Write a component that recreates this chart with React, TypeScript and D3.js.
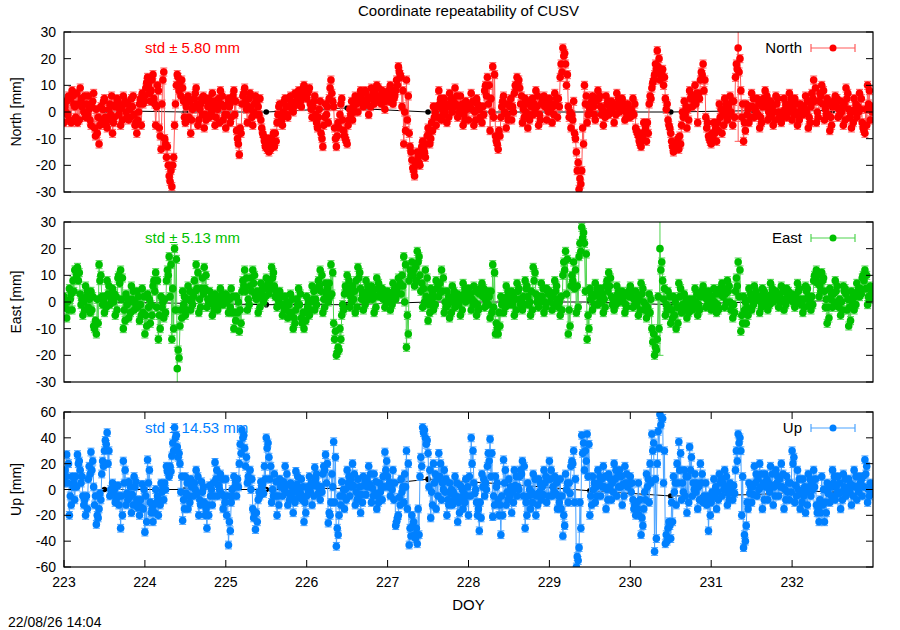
import React from 'react';
import * as d3 from 'd3';

// Sampling: 90 epochs per day, starting DOY 223.0.
// Three interleaved epoch sets (A, B, C), 30 values per day each.
const START_DOY = 223;
const EPOCHS_PER_DAY = 90;
const xDomain = [223, 233];
const xTicks = [223, 224, 225, 226, 227, 228, 229, 230, 231, 232];

// North residuals [mm]
const northA = [
  -4, 4, -3, 8, 2, -4, 9, 3, -2, 6, -5, 7, 1, -12, -3, 5, -6, 3, -8, 2, 4, -5, 6, 0, -3, 5, -1, -8, 3, 7,
  6, 13, 4, 14, -5, 8, -14, 15, -17, -24, -28, -5, 14, 11, 9, -4, 6, -8, 2, 9, -3, 5, -6, 4, -2, 7, -5, 1, 8, -3,
  -6, 5, -2, 8, -7, -16, 3, 9, -4, 7, -5, 6, 2, -3, -9, -12, -15, -10, -13, -4, 3, -5, 5, -2, 6, 0, 4, 8, 2, 10,
  5, 9, -2, 6, -6, 4, -13, 3, -4, 12, 2, -13, -6, 5, -9, -12, 1, -3, 6, 0, 8, 2, 7, -1, 9, 3, 10, 4, 8, 1,
  6, 10, 3, 8, 17, 13, -12, 12, -8, -18, -24, -15, -20, -11, -17, -6, -10, 2, -5, 8, -3, 5, -4, 7, 0, 9, -2, 6, -5, 4,
  -3, 7, -5, 5, 1, -4, 8, 13, -7, 17, -9, -14, -2, 6, -6, 3, -3, 7, 13, 9, -4, 5, -6, 4, -1, 8, -5, 3, 6, -3,
  5, -4, 7, -2, 13, 24, 18, 2, -6, 4, -15, -29, -22, 10, -4, 1, 6, -3, 8, 2, -5, 6, -1, 4, -4, 7, 0, 5, -3, 3,
  -2, 5, -6, -9, -13, -4, -11, 3, 9, 14, 23, 12, 16, 5, -3, -8, -15, -12, -14, -5, 4, -6, 8, 2, 10, -4, 12, 18, -2, -9,
  -12, -4, -11, 3, -8, 5, -3, 6, -5, 13, 24, 8, -11, 3, -4, 7, -2, 5, -6, 2, 8, -3, 4, -5, 6, 0, -4, 5, -2, 7,
  -3, 5, -5, 3, -1, 6, -6, 2, 12, -4, 4, 10, -3, 5, -7, 2, 6, -2, 4, -5, 9, 1, -6, 5, -2, 7, -4, -8, 10, -3,
];
const northB = [
  2, -1, 5, 6, -2, 3, 5, 0, 3, 1, 2, -6, -8, -5, 1, -2, -3, -1, -4, 3, -1, 2, 3, -2, 1, 2, -5, -3, 5, 3,
  9, 10, 8, 5, 2, -6, 3, -10, -13, -26, -20, 3, 13, 6, 4, 2, -2, -3, 5, 3, 1, -1, -1, 2, 3, 1, -2, 5, 3, 2,
  -1, 2, 4, -1, -10, -6, 6, 4, 2, 1, 0, 4, -1, -6, -11, -14, -12, -11, -8, -1, -1, 0, 2, 2, 3, 2, 6, 5, 7, 7,
  7, 3, 2, -1, -2, -8, -5, -1, 5, 7, -6, -9, -1, -3, -10, -5, -1, 2, 3, 4, 5, 4, 3, 5, 6, 7, 6, 6, 5, 4,
  8, 6, 5, 12, 15, 2, 0, -3, -13, -21, -19, -17, -16, -14, -12, -8, -4, -2, 2, 3, 1, 0, 2, 3, 4, 3, 2, 1, -1, 1,
  2, 1, 0, 3, -2, 2, 10, 3, 5, -2, -11, -7, 2, 0, -1, 2, 2, 10, 11, 3, 1, 0, -1, 2, 3, 2, -1, 4, 2, 1,
  1, 2, 3, 5, 18, 21, 10, -2, -1, -8, -22, -25, -6, 3, -1, 3, 2, 4, 5, -1, 0, 3, 2, 0, 2, 3, 2, 1, 0, -1,
  1, -1, -7, -11, -8, -8, -4, 6, 11, 18, 17, 14, 10, 1, -5, -11, -13, -13, -9, 0, -1, 1, 5, 6, 3, 7, 15, 8, -6, -10,
  -8, -8, -4, -2, -1, 1, 2, 0, 4, 18, 15, -2, -4, -1, 2, 2, 1, -1, -2, 5, 2, 0, -1, 0, 3, -2, 0, 1, 2, 3,
  1, 0, -1, 1, 2, 0, -2, 7, 4, 0, 7, 3, 1, -1, -2, 4, 2, 1, 0, 3, 5, -2, 0, 1, 2, 1, -6, 1, 3, 2,
];
const northC = [
  0, 6, -4, 3, 7, -3, 2, 6, -1, -3, 4, -9, -2, 2, 4, -5, 1, 6, -2, 5, 1, -3, 4, 3, -2, 6, -4, 0, -5, 4,
  11, 7, 12, 3, 10, -9, 12, -12, -20, -22, -17, 10, 8, 12, -2, 5, 4, 1, 7, -5, 3, 6, -3, 5, 0, 4, 3, -4, 6, -1,
  3, -4, 6, 4, -12, -8, 7, 1, 5, -2, 3, -1, 5, -8, -13, -10, -14, -8, -11, 2, -3, 4, -1, 5, 1, 7, 3, 4, 9, 6,
  8, 1, 4, -4, 1, -10, -2, 2, 9, 4, -10, -4, 3, -7, -11, -3, 4, 0, 5, 6, 3, 8, 5, 2, 8, 5, 9, 3, 7, 6,
  4, 8, 6, 10, 14, 8, -7, 6, -15, -22, -20, -19, -13, -15, -9, -12, -7, 0, -2, 5, -1, 3, -2, 5, 2, 6, 0, 3, -3, 2,
  3, 4, -3, 1, 2, -1, 6, 10, 0, 14, -12, -9, 4, 3, -3, 5, 0, 9, 12, 6, -2, 3, -3, 5, 1, 6, -3, 5, 4, 0,
  3, -1, 5, 2, 15, 22, 14, 0, -3, -10, -19, -27, -12, 6, 2, 4, -1, 5, 6, 1, -2, 4, 1, 3, -1, 5, 3, 3, -2, 1,
  0, 3, -8, -12, -10, -6, -8, 5, 12, 16, 20, 15, 13, 3, -6, -13, -14, -10, -12, -2, 2, -3, 6, 4, 7, 5, 14, 12, -4, -11,
  -10, -6, -7, 1, -5, 3, -1, 4, -2, 16, 20, 3, -7, 1, -2, 5, 0, 3, -4, 4, 6, -2, 2, -3, 5, -1, -2, 3, 0, 5,
  -1, 3, -3, 2, 1, 4, -4, 5, 9, -2, 6, 8, -1, 3, -5, 3, 5, -1, 2, -3, 7, 0, -4, 3, 0, 5, -7, -5, 8, 0,
];

// East residuals [mm]
const eastA = [
  2, -6, 5, -3, 12, 13, 3, -5, 6, -2, 4, -9, -12, 14, 2, -4, 8, -1, 5, -5, 9, 12, -10, 3, -6, 6, -3, 4, -7, 5,
  -12, 3, -8, 6, 11, -14, 2, -6, 8, 17, -14, 20, -25, -9, 4, -5, 6, -3, 2, 14, -4, 5, 13, -2, 4, -5, 3, -3, 5, -1,
  3, -4, 5, -10, 2, -11, 4, 12, -3, 6, 12, 2, -4, 7, 0, 9, 3, 13, 6, -2, 4, -5, 2, -6, 3, -10, -3, 5, -6, -10,
  2, -5, 6, -3, 5, 12, -4, 7, 0, 14, -8, -20, -18, -5, 3, 10, -2, 6, -4, 13, 5, -3, 8, 1, 6, -4, 9, 2, 5, -2,
  4, -3, 7, 1, 9, 3, 17, -17, 8, 15, 6, 19, 10, -2, 12, -7, 5, -3, 8, 2, 12, -4, 4, -6, 6, -2, 3, -5, 7, 0,
  5, -3, 6, -5, 3, 7, -2, 4, -6, 14, -12, -12, 2, -4, 6, -1, 4, -5, 7, 1, -3, 8, 2, -5, 13, 3, -2, 7, -4, 5,
  4, -3, 8, 1, -5, 10, 19, -12, 6, 15, -4, 17, 28, 22, -14, 5, -3, 7, -1, 5, -4, 6, 11, 2, -3, 6, 0, 4, -4, 3,
  6, -2, 4, -5, 7, 0, -6, 3, -10, -20, -14, 20, 8, -5, 4, -8, 2, -10, 7, -4, 3, -6, 1, -3, 5, -5, 2, 6, -2, 4,
  -3, 5, -4, 3, 7, -2, 8, 0, -6, 4, 15, -11, 2, -8, 5, -3, 6, 1, -4, 5, 2, -3, 7, 0, 4, -2, 6, -3, 5, 1,
  3, -2, 7, 1, -4, 6, 2, -3, 8, 12, 2, 11, 4, -8, 5, -2, 8, 0, -5, 6, 3, -9, 4, -3, 7, 2, 9, 12, -1, 6,
];
const eastB = [
  -2, 0, 1, 8, 12, 8, -1, 0, 2, 1, -3, -10, 1, 8, -1, 2, 3, 2, 0, 2, 10, 1, -3, -1, 0, 1, 0, -2, -1, -4,
  -5, -2, -1, 8, -2, -5, -2, 1, 12, 2, 5, -3, -18, -3, -1, 1, 1, 0, 8, 5, 1, 9, 5, 1, 0, -1, 0, 1, 2, 1,
  0, 1, -4, -4, -4, -3, 8, 4, 1, 9, 7, 1, 2, 3, 5, 6, 8, 9, 2, 1, -1, -1, -2, -1, -4, -6, 1, -1, -8, -4,
  -2, 0, 1, 1, 8, 4, 1, 3, 7, 3, -14, -19, -10, -1, 6, 4, 2, 1, 8, 9, 1, 2, 4, 3, 1, 2, 5, 3, 1, 2,
  0, 2, 4, 5, 6, 10, 0, -5, 12, 10, 13, 15, 4, 5, 2, -1, 1, 2, 5, 7, 4, 0, -1, 0, 2, 1, -1, 1, 3, 2,
  1, 1, 0, -1, 5, 2, 1, -1, 4, -2, -8, -4, -1, 1, 2, 1, -1, 1, 4, -1, 2, 5, -1, 4, 8, 0, 2, 2, 0, 4,
  0, 2, 4, -2, 2, 15, 3, -3, 10, 5, 6, 22, 24, 4, -5, 1, 2, 3, 2, 0, 1, 8, 6, -1, 1, 3, 2, 0, -1, 4,
  2, 1, -1, 1, 3, -3, -2, -4, -15, -17, 2, 12, 1, -1, -2, -3, -5, -2, 2, -1, -1, -2, -1, 1, 0, -1, 4, 2, 1, 0,
  1, 0, -1, 5, 2, 3, 4, -3, -1, 9, 2, -5, -3, -2, 1, 1, 3, 1, 0, 3, -1, 2, 3, 2, 1, 2, 1, 1, 3, 2,
  0, 2, 4, -1, 1, 4, -1, 2, 10, 7, 6, 8, -2, -2, 1, 3, 4, -2, 0, 4, -3, -2, 0, 2, 4, 5, 10, 5, 2, 3,
];
const eastC = [
  0, -3, 3, 4, 10, 11, 1, -3, 4, -4, 2, -7, -8, 10, 0, -2, 6, 1, 3, -3, 7, 9, -7, 1, -4, 4, -1, 2, -5, 2,
  -9, 1, -5, 4, 8, -10, 0, -4, 10, 14, -10, 16, -21, -6, 2, -3, 4, -1, 4, 11, -2, 3, 10, 0, 2, -3, 2, -1, 3, 0,
  2, -2, 2, -7, 0, -8, 6, 9, -1, 4, 10, 4, -2, 5, 2, 7, 5, 11, 4, 0, 2, -3, 0, -4, 1, -8, -1, 3, -4, -7,
  0, -3, 4, -1, 6, 10, -2, 5, 2, 11, -11, -17, -14, -3, 5, 8, 0, 4, -2, 11, 3, -1, 6, 2, 4, -2, 7, 3, 4, 0,
  2, -1, 5, 3, 7, 6, 14, -12, 10, 12, 8, 17, 7, 0, 9, -4, 3, -1, 6, 4, 9, -2, 2, -4, 4, 0, 2, -3, 5, 1,
  3, -1, 4, -3, 4, 5, 0, 2, -4, 11, -10, -9, 0, -2, 4, 0, 2, -3, 5, 0, -1, 6, 0, -3, 11, 2, 0, 5, -2, 3,
  2, -1, 6, 0, -3, 12, 16, -9, 8, 12, -2, 19, 26, 18, -10, 3, -1, 5, 0, 3, -2, 4, 9, 1, -1, 4, 1, 2, -2, 2,
  4, -1, 2, -3, 5, -1, -4, 1, -12, -18, -10, 15, 5, -3, 2, -6, 0, -8, 5, -3, 1, -4, 0, -2, 3, -3, 3, 4, -1, 2,
  -2, 3, -3, 4, 5, 0, 6, -1, -4, 6, 12, -8, 0, -5, 3, -1, 4, 2, -2, 4, 0, -1, 5, 1, 3, 0, 4, -1, 4, 2,
  2, 0, 5, 0, -2, 5, 1, -1, 9, 10, 4, 9, 1, -6, 3, 0, 6, 1, -3, 5, 1, -7, 2, -1, 5, 3, 8, 10, 1, 4,
];

// Up residuals [mm]
const upA = [
  5, 27, -20, 10, -8, 27, 15, -5, -20, 8, 29, 2, -27, -15, 12, 30, 44, -5, 5, -10, 3, -30, 22, -12, 6, -18, 10, -8, -20, 4,
  -33, 23, -10, -25, 0, -20, 5, -8, 18, 10, 26, 48, 33, 20, -24, 10, -15, 8, -5, 15, -20, 6, -10, -30, 3, -12, 21, -5, 12, -15,
  8, -43, -10, 10, -5, 20, 46, 32, 5, 15, -15, -31, -8, 6, -3, 40, 25, -10, 12, -20, 8, -5, 18, -12, 5, -18, 14, -6, 8, -25,
  -5, 10, -12, 17, 3, -8, 12, 27, -26, -10, 37, -44, -20, 6, -15, 15, -5, 20, -12, 8, -18, 10, -4, 18, -10, 12, -15, 5, -8, 29,
  10, -5, 15, -28, -20, 8, -10, 30, -43, -20, -35, -42, 10, 48, 40, 28, -22, 20, -15, 28, -8, 15, -20, 5, -12, 10, -25, 3, -15, 8,
  -20, 40, 5, -10, -32, 12, -5, 18, 39, -21, 10, -8, -35, 23, -12, 8, -18, 15, -5, 10, 22, -30, 5, -15, 12, -20, 8, -8, 15, -10,
  22, -5, 10, -15, 8, -36, 12, -10, 18, 30, -60, -45, 42, 15, 43, -20, 10, -10, 15, -5, 18, -15, 12, -8, 20, -5, 15, -12, 18, 2,
  10, -8, -20, 5, -35, -15, 12, -10, 43, -48, 20, 58, 55, -42, -30, -38, 10, -12, 37, -8, 15, -18, 33, -5, 12, -15, 20, -10, 5, -32,
  -10, 8, -15, 12, -5, 15, -12, 5, -8, 15, 43, 30, -45, -28, 5, -10, 18, -5, 20, -15, 12, -8, 18, -12, 15, -5, 20, -15, 10, -8,
  30, -10, 15, -15, 8, -18, 12, -5, 15, -12, -25, 10, -25, 5, -10, 15, -8, 10, -15, 12, -5, 8, -12, 15, -8, 10, -5, 23, -10, 5,
];
const upB = [
  15, 5, -5, 2, 10, 20, 5, -12, -5, 18, 15, -12, -20, -3, 22, 38, 20, 0, -2, -8, -12, -5, 5, -3, -6, -4, 2, -14, -8, -15,
  -5, 5, -18, -12, -10, -8, -2, 5, 14, 18, 36, 40, 25, -2, -8, -3, -5, 2, 5, -3, -8, -2, -20, -12, -5, 5, 8, 3, -3, -5,
  -20, -25, 0, 2, 8, 35, 40, 18, 10, 0, -22, -18, -2, 2, 18, 32, 8, 0, -5, -5, 2, 6, 3, -3, -6, -2, 4, 1, -8, -10,
  2, -2, 3, 8, -3, 2, 18, 5, -18, 12, -10, -30, -5, -5, 0, 5, 8, 3, -2, -5, -4, 3, 8, 4, 1, -3, -5, -2, 10, 15,
  2, 5, -8, -25, -6, -2, 12, -15, -30, -28, -38, -15, 25, 44, 35, 2, -2, 5, 8, 10, 5, -2, -8, -3, -2, -5, -10, -6, -3, -5,
  10, 20, -3, -20, -10, 2, 5, 28, 10, -5, 2, -20, -5, 5, -2, -5, -2, 3, 2, 15, -5, -10, -5, -2, -4, -5, -2, 2, 5, 8,
  8, 2, -3, -5, -15, -20, 0, 5, 22, -10, -52, -10, 28, 30, 10, -5, 0, 2, 5, 8, 2, 0, 2, 5, 8, 10, 2, 4, 5, 5,
  -2, -15, -10, -20, -22, -2, 2, 20, 30, 8, 45, 50, 5, -35, -25, -10, -2, 20, 15, 5, -5, 10, 15, 5, -2, 2, 5, -5, -12, -10,
  -2, -5, -2, 5, 5, 2, -3, -2, 3, 30, 36, -20, -35, -10, -3, 2, 5, 8, 2, 5, 2, 5, 3, 2, 5, 8, 2, 0, -2, 5,
  20, 3, 0, -3, -5, -2, 2, 5, 2, -18, -8, -12, -10, -3, 2, 5, 2, -3, -2, 2, 0, -2, 3, 2, 2, 5, 10, 12, 0, -2,
];
const upC = [
  10, 20, -12, 5, 2, 22, 10, -8, -15, 12, 22, -5, -22, -8, 18, 35, 30, -3, 0, -5, -5, -20, 15, -8, 2, -12, 6, -10, -14, 0,
  -25, 15, -15, -18, -5, -12, 2, 0, 15, 14, 30, 42, 28, 10, -15, 5, -10, 5, 0, 10, -12, 2, -15, -20, 0, -5, 15, 0, 8, -10,
  -5, -32, -5, 6, 2, 28, 42, 25, 8, 8, -18, -25, -5, 4, 8, 36, 18, -5, 6, -12, 5, 0, 12, -8, 2, -10, 10, -3, 2, -18,
  -2, 5, -5, 12, 0, -2, 15, 20, -20, 2, 25, -35, -12, 0, -8, 10, 2, 12, -8, 2, -10, 6, 2, 12, -5, 6, -10, 2, 2, 22,
  5, 0, 5, -22, -12, 2, 2, 20, -36, -25, -30, -35, 18, 46, 38, 15, -12, 12, -5, 20, 0, 8, -12, 0, -8, 5, -18, 0, -10, 2,
  -5, 30, 0, -15, -22, 8, 0, 22, 28, -12, 5, -12, -20, 15, -8, 2, -10, 10, 0, 12, 18, -20, 0, -10, 8, -12, 4, -4, 10, -5,
  15, -2, 5, -10, -5, -28, 5, -3, 20, 8, -55, -30, 36, 22, 35, -12, 5, -5, 10, 2, 10, -8, 8, -2, 15, 2, 10, -5, 12, 4,
  5, -12, -15, -8, -28, -8, 8, 5, 36, -38, 32, 55, 30, -40, -28, -25, 5, 5, 28, -2, 10, -10, 25, 0, 5, -8, 12, -8, -5, -20,
  -6, 2, -8, 8, 0, 10, -8, 2, -3, 22, 40, 10, -40, -15, 2, -4, 12, 0, 12, -8, 8, -2, 12, -5, 10, 2, 12, -8, 5, -2,
  25, -5, 8, -10, 2, -12, 8, 0, 8, -15, -18, 0, -18, 2, -5, 10, -3, 5, -8, 8, -2, 4, -5, 10, -2, 8, 2, 18, -5, 2,
];

// Formal errors [mm]: default sigma plus larger ones at a few A epochs
const sigmaNE = 1.5;
const sigmaU = 3;
const northErrOverrides: Record<number, number> = { 250: 35 };
const eastErrOverrides: Record<number, number> = { 42: 8, 221: 40 };
const upErrOverrides: Record<number, number> = {};

// Daily reference solution (black)
const modelDoy = [223.5, 224.5, 225.5, 226.5, 227.5, 228.5, 229.5, 230.5, 231.5, 232.5];
const modelN = [0.5, 0, 0, 1.5, 0, 0, 0, 0, 0.5, 0.5];
const modelE = [0, -0.5, -1, -1, 0, 0, 0, -1, 0, 0.5];
const modelU = [0, 0, 0, 1, 8, 4, -1, -5, -4, -1];

const stdTexts = ['std \u00b1 5.80 mm', 'std \u00b1 5.13 mm', 'std \u00b1 14.53 mm'];
const seriesNames = ['North', 'East', 'Up'];
const yLabels = ['North [mm]', 'East [mm]', 'Up [mm]'];

const FONT = '"Liberation Sans", Arial, Helvetica, sans-serif';

type Pt = { t: number; v: number; e: number };

function merge(a: number[], b: number[], c: number[], over: Record<number, number>, sigma: number): Pt[] {
  const out: Pt[] = [];
  a.forEach((v, i) => {
    out.push({ t: START_DOY + (3 * i) / EPOCHS_PER_DAY, v, e: over[i] ?? sigma });
    out.push({ t: START_DOY + (3 * i + 1) / EPOCHS_PER_DAY, v: b[i], e: sigma });
    out.push({ t: START_DOY + (3 * i + 2) / EPOCHS_PER_DAY, v: c[i], e: sigma });
  });
  return out;
}

export default function App() {
  const x = d3.scaleLinear().domain(xDomain).range([64, 873]);
  const panels = [
    { pts: merge(northA, northB, northC, northErrOverrides, sigmaNE), model: modelN, dom: [-30, 30], top: 32, bottom: 192, ticks: d3.range(-30, 31, 10), color: '#ff0000', light: '#ff5a5a', xAxis: false },
    { pts: merge(eastA, eastB, eastC, eastErrOverrides, sigmaNE), model: modelE, dom: [-30, 30], top: 222, bottom: 382, ticks: d3.range(-30, 31, 10), color: '#00c000', light: '#4fd44f', xAxis: false },
    { pts: merge(upA, upB, upC, upErrOverrides, sigmaU), model: modelU, dom: [-60, 60], top: 412, bottom: 567, ticks: d3.range(-60, 61, 20), color: '#0080ff', light: '#4aa3ff', xAxis: true },
  ];
  const left = 64, right = 873;
  return (
    <svg width={900} height={630} viewBox="0 0 900 630" style={{ position: 'absolute', left: 0, top: 0, background: '#fff' }} fontFamily={FONT}>
      <rect x={0} y={0} width={900} height={630} fill="#fff" />
      <text x={468.5} y={16} textAnchor="middle" fontSize={15}>Coordinate repeatability of CUSV</text>
      <defs>
        {panels.map((p, k) => (
          <clipPath id={`clip${k}`} key={k}>
            <rect x={left} y={p.top} width={right - left} height={p.bottom - p.top} />
          </clipPath>
        ))}
      </defs>
      {panels.map((p, k) => {
        const y = d3.scaleLinear().domain(p.dom).range([p.bottom, p.top]);
        const pts = p.pts;
        const line = d3.line<Pt>().x(d => x(d.t)).y(d => y(d.v));
        const mline = d3.line<number>().x((_, i) => x(modelDoy[i])).y(d => y(d));
        const mid = (p.top + p.bottom) / 2;
        const legY = p.top + 16;
        return (
          <g key={k}>
            <g clipPath={`url(#clip${k})`}>
              <path d={mline(p.model) || ''} fill="none" stroke="#000" strokeWidth={1} />
              {p.model.map((v, i) => (
                <circle key={i} cx={x(modelDoy[i])} cy={y(v)} r={2.8} fill="#000" />
              ))}
              <path d={line(pts) || ''} fill="none" stroke={p.light} strokeWidth={1} />
              {pts.map((d, i) => (
                <g key={i} stroke={p.light} strokeWidth={1}>
                  <line x1={x(d.t)} x2={x(d.t)} y1={y(d.v - d.e)} y2={y(d.v + d.e)} />
                  <line x1={x(d.t) - 3.5} x2={x(d.t) + 3.5} y1={y(d.v - d.e)} y2={y(d.v - d.e)} />
                  <line x1={x(d.t) - 3.5} x2={x(d.t) + 3.5} y1={y(d.v + d.e)} y2={y(d.v + d.e)} />
                </g>
              ))}
              {pts.map((d, i) => (
                <circle key={i} cx={x(d.t)} cy={y(d.v)} r={3.8} fill={p.color} />
              ))}
            </g>
            <rect x={left} y={p.top} width={right - left} height={p.bottom - p.top} fill="none" stroke="#000" strokeWidth={1.2} />
            {p.ticks.map(t => (
              <g key={t}>
                <line x1={left} x2={left + 7} y1={y(t)} y2={y(t)} stroke="#000" />
                <line x1={right - 7} x2={right} y1={y(t)} y2={y(t)} stroke="#000" />
                <text x={56} y={y(t) + 5} textAnchor="end" fontSize={14}>{t}</text>
              </g>
            ))}
            {p.xAxis && xTicks.map(t => (
              <g key={t}>
                <line x1={x(t)} x2={x(t)} y1={p.bottom} y2={p.bottom - 7} stroke="#000" />
                <line x1={x(t)} x2={x(t)} y1={p.top} y2={p.top + 7} stroke="#000" />
                <text x={x(t)} y={p.bottom + 20} textAnchor="middle" fontSize={14}>{t}</text>
              </g>
            ))}
            <text transform={`translate(21,${mid}) rotate(-90)`} textAnchor="middle" fontSize={14}>{yLabels[k]}</text>
            <text x={145} y={legY + 5} fontSize={15} fill={p.color}>{stdTexts[k]}</text>
            <text x={802} y={legY + 5} textAnchor="end" fontSize={15}>{seriesNames[k]}</text>
            <g stroke={p.light} strokeWidth={1.2}>
              <line x1={811} x2={855} y1={legY} y2={legY} />
              <line x1={811} x2={811} y1={legY - 4} y2={legY + 4} />
              <line x1={855} x2={855} y1={legY - 4} y2={legY + 4} />
            </g>
            <circle cx={833} cy={legY} r={3.5} fill={p.color} />
          </g>
        );
      })}
      <text x={468.5} y={610} textAnchor="middle" fontSize={15}>DOY</text>
      <text x={8} y={627} fontSize={14}>22/08/26 14:04</text>
    </svg>
  );
}
